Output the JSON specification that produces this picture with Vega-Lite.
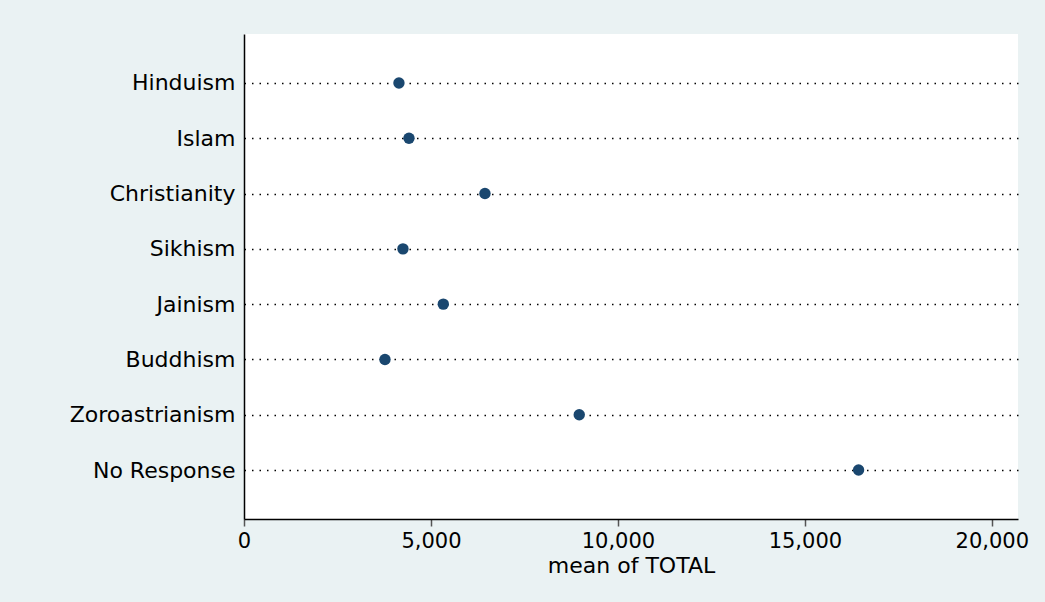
{
  "$schema": "https://vega.github.io/schema/vega-lite/v6.json",
  "width": 774,
  "height": 485,
  "autosize": {"type": "none"},
  "padding": {"left": 244, "top": 34, "right": 27, "bottom": 83},
  "background": "#EAF2F3",
  "config": {
    "view": {"fill": "white", "stroke": null},
    "font": "DejaVu Sans"
  },
  "data": {
    "values": [
      {"religion": "Hinduism", "total": 4144},
      {"religion": "Islam", "total": 4412},
      {"religion": "Christianity", "total": 6444},
      {"religion": "Sikhism", "total": 4251},
      {"religion": "Jainism", "total": 5330},
      {"religion": "Buddhism", "total": 3770},
      {"religion": "Zoroastrianism", "total": 8966},
      {"religion": "No Response", "total": 16436}
    ]
  },
  "mark": {"type": "point", "filled": true, "shape": "circle", "size": 130, "color": "#1A476F", "opacity": 1},
  "encoding": {
    "y": {
      "field": "religion",
      "type": "nominal",
      "sort": null,
      "scale": {"type": "point", "padding": 0.885},
      "axis": {
        "title": null,
        "ticks": false,
        "domain": true,
        "domainColor": "#000000",
        "domainWidth": 1.5,
        "labelFont": "DejaVu Sans",
        "labelFontSize": 22,
        "labelColor": "#000000",
        "labelPadding": 9,
        "grid": true,
        "gridColor": "#000000",
        "gridWidth": 1.5,
        "gridDash": [1.5, 6]
      }
    },
    "x": {
      "field": "total",
      "type": "quantitative",
      "scale": {"domain": [0, 20700], "nice": false, "zero": true},
      "axis": {
        "title": "mean of TOTAL",
        "values": [0, 5000, 10000, 15000, 20000],
        "format": ",d",
        "grid": false,
        "domainColor": "#000000",
        "domainWidth": 1.5,
        "tickColor": "#555555",
        "tickWidth": 1.5,
        "tickSize": 7,
        "labelFont": "DejaVu Sans",
        "labelFontSize": 21,
        "labelColor": "#000000",
        "labelPadding": 4,
        "labelFlush": false,
        "titleFont": "DejaVu Sans",
        "titleFontSize": 22,
        "titleFontWeight": "normal",
        "titleColor": "#000000",
        "titleBaseline": "alphabetic",
        "titleY": 53
      }
    }
  }
}
